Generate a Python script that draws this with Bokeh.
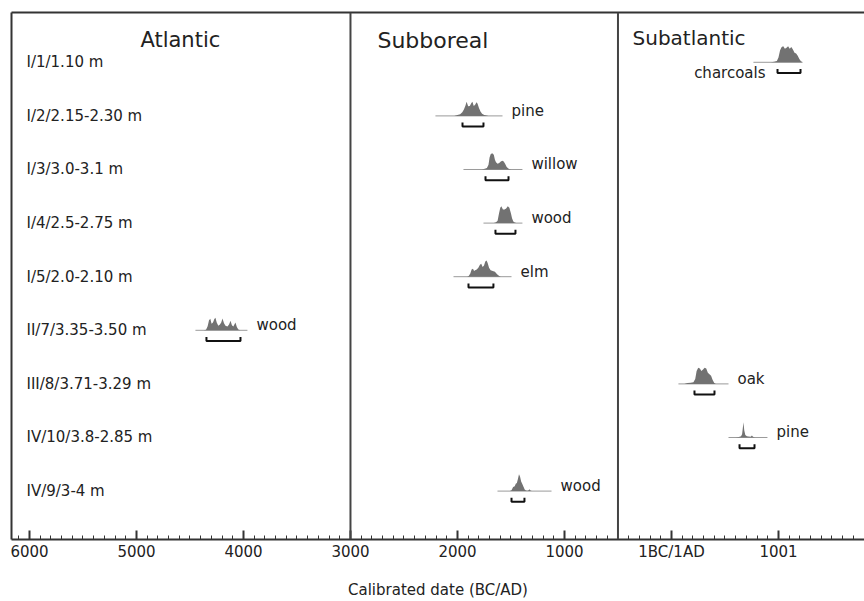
from bokeh.plotting import figure
from bokeh.models import Range1d, FixedTicker, LinearAxis, Span
from bokeh.core.properties import value
from bokeh.embed import file_html
from bokeh.resources import INLINE

FONT = "DejaVu Sans"

# ---------------- data ----------------
row_labels = ["I/1/1.10 m", "I/2/2.15-2.30 m", "I/3/3.0-3.1 m", "I/4/2.5-2.75 m",
              "I/5/2.0-2.10 m", "II/7/3.35-3.50 m", "III/8/3.71-3.29 m",
              "IV/10/3.8-2.85 m", "IV/9/3-4 m"]
materials = ["charcoals", "pine", "willow", "wood", "elm", "wood", "oak", "pine", "wood"]
label_at_left = [True, False, False, False, False, False, False, False, False]

# calendar years: negative = BC, positive = AD
periods = ["Atlantic", "Subboreal", "Subatlantic"]
period_label_x = [-4963, -2748, -364]
period_label_y = [-0.41, -0.41, -0.46]
period_font_px = [21, 22, 20]
period_bounds = [-3000, -500]

# extent of the plotted (thin) probability line per sample
base_start = [766, -2206, -1944, -1757, -2037, -4449, 65, 533, -1626]
base_end = [1224, -1579, -1393, -1393, -1495, -3963, 533, 897, -1121]
# 2-sigma calibrated range per sample (bracket)
range_start = [991, -1953, -1738, -1645, -1897, -4346, 215, 636, -1495]
range_end = [1206, -1757, -1523, -1458, -1664, -4028, 402, 776, -1374]

charcoals_years = [930, 960, 985, 1000, 1015, 1030, 1045, 1060, 1075, 1090, 1105, 1120,
                   1135, 1150, 1165, 1180, 1195, 1210, 1225]
charcoals_prob = [0.0, 0.03, 0.08, 0.3, 0.75, 0.95, 1.0, 0.85, 0.9, 1.0, 0.85, 0.95,
                  0.8, 0.6, 0.55, 0.4, 0.2, 0.07, 0.0]

pine1_years = [-2030, -2000, -1975, -1955, -1940, -1925, -1915, -1900, -1885, -1870, -1860,
               -1848, -1835, -1822, -1812, -1800, -1785, -1770, -1750, -1730, -1710]
pine1_prob = [0.0, 0.05, 0.1, 0.22, 0.4, 0.65, 0.88, 0.6, 0.62, 0.8, 0.88,
              0.62, 0.7, 0.85, 0.75, 0.5, 0.28, 0.14, 0.06, 0.03, 0.0]

willow_years = [-1770, -1745, -1725, -1710, -1700, -1690, -1680, -1670, -1660, -1650, -1640,
                -1625, -1610, -1595, -1580, -1568, -1555, -1540, -1525, -1510, -1495]
willow_prob = [0.0, 0.05, 0.1, 0.3, 0.75, 0.95, 1.0, 1.0, 0.9, 0.6, 0.45,
               0.35, 0.4, 0.5, 0.55, 0.5, 0.35, 0.15, 0.06, 0.02, 0.0]

wood4_years = [-1660, -1640, -1625, -1612, -1600, -1590, -1575, -1560, -1545, -1530, -1515,
               -1500, -1490, -1478, -1465, -1450]
wood4_prob = [0.0, 0.05, 0.15, 0.6, 0.95, 1.05, 0.85, 0.85, 0.9, 1.05, 0.95,
              0.6, 0.3, 0.1, 0.03, 0.0]

elm_years = [-1910, -1895, -1880, -1868, -1855, -1845, -1835, -1820, -1805, -1790, -1778,
             -1765, -1752, -1740, -1728, -1718, -1705, -1690, -1670, -1650, -1630, -1610, -1595]
elm_prob = [0.0, 0.05, 0.2, 0.45, 0.5, 0.35, 0.4, 0.45, 0.55, 0.75, 0.8,
            0.6, 0.7, 0.95, 1.0, 0.85, 0.55, 0.4, 0.35, 0.3, 0.15, 0.05, 0.0]

wood7_years = [-4370, -4350, -4335, -4322, -4310, -4298, -4285, -4272, -4262, -4250, -4235,
               -4220, -4208, -4196, -4182, -4168, -4150, -4135, -4121, -4108, -4095, -4085,
               -4075, -4062, -4048, -4030]
wood7_prob = [0.0, 0.04, 0.25, 0.62, 0.72, 0.4, 0.48, 0.7, 0.78, 0.48, 0.28,
              0.36, 0.48, 0.74, 0.44, 0.28, 0.24, 0.36, 0.6, 0.32, 0.24, 0.36,
              0.48, 0.2, 0.05, 0.0]

oak_years = [120, 150, 180, 205, 222, 235, 250, 265, 280, 295, 310, 325, 340, 355, 370,
             385, 400, 415]
oak_prob = [0.0, 0.05, 0.07, 0.1, 0.3, 0.8, 1.0, 0.95, 0.8, 0.9, 1.0, 0.95, 0.7, 0.6, 0.5,
            0.25, 0.06, 0.0]

pine10_years = [600, 630, 650, 660, 667, 673, 680, 690, 705, 720, 740, 752, 762, 780]
pine10_prob = [0.0, 0.03, 0.08, 0.2, 0.6, 0.95, 0.45, 0.15, 0.08, 0.06, 0.05, 0.12, 0.04, 0.0]

wood9_years = [-1510, -1495, -1480, -1465, -1455, -1445, -1435, -1425, -1415, -1405, -1395,
               -1385, -1372, -1360, -1345, -1335, -1327, -1318, -1305]
wood9_prob = [0.0, 0.05, 0.25, 0.3, 0.45, 0.5, 0.75, 1.05, 0.9, 0.6, 0.45,
              0.3, 0.1, 0.03, 0.02, 0.05, 0.12, 0.03, 0.0]

curve_years = [charcoals_years, pine1_years, willow_years, wood4_years, elm_years,
               wood7_years, oak_years, pine10_years, wood9_years]
curve_prob = [charcoals_prob, pine1_prob, willow_prob, wood4_prob, elm_prob,
              wood7_prob, oak_prob, pine10_prob, wood9_prob]

tick_years = [-6000, -5000, -4000, -3000, -2000, -1000, 0, 1000]
tick_labels = ["6000", "5000", "4000", "3000", "2000", "1000", "1BC/1AD", "1001"]
minor_years = list(range(-6100, 1900, 100))

# ---------------- figure ----------------
X0, X1 = -6168, 1804
Y_BOTTOM, Y_TOP = 8.903, -0.929
PEAK_H = 0.3        # row units for probability 1.0
BRACKET_DY = 0.2    # bracket below the curve baseline
TXT = "#222222"
LINE = "#333333"

rows = list(range(len(row_labels)))

p = figure(width=864, height=601, x_range=Range1d(X0, X1), y_range=Range1d(Y_BOTTOM, Y_TOP),
           output_backend="svg", toolbar_location=None, y_axis_location=None,
           x_axis_location=None,
           min_border_left=11, min_border_right=0, min_border_top=12, min_border_bottom=60)
p.grid.visible = False
p.outline_line_color = None
p.background_fill_color = "white"

# frame lines (top and left) as bare axes
for side in ("above", "left"):
    ax = LinearAxis(ticker=FixedTicker(ticks=[]), axis_line_width=2, axis_line_color=LINE,
                    major_tick_line_color=None, minor_tick_line_color=None,
                    major_label_text_font_size="0px", major_label_standoff=0,
                    axis_label_standoff=0)
    p.add_layout(ax, side)

xa = LinearAxis(
    ticker=FixedTicker(ticks=tick_years, minor_ticks=minor_years),
    major_label_overrides={t: l for t, l in zip(tick_years, tick_labels)},
    axis_line_width=2, axis_line_color=LINE,
    major_tick_in=9, major_tick_out=0, minor_tick_in=4, minor_tick_out=0,
    major_tick_line_width=2, major_tick_line_color=LINE,
    minor_tick_line_color=LINE, minor_tick_line_width=1,
    major_label_text_font=FONT, major_label_text_font_size="15px",
    major_label_text_color=TXT, major_label_standoff=3,
    axis_label="Calibrated date (BC/AD)", axis_label_text_font=FONT,
    axis_label_text_font_size="15px", axis_label_text_font_style="normal",
    axis_label_text_color=TXT, axis_label_standoff=17)
p.add_layout(xa, "below")

# period boundaries
for b in period_bounds:
    p.add_layout(Span(location=b, dimension="height", line_color="#444444", line_width=2))

# period titles
p.text(x=period_label_x, y=period_label_y, text=periods, text_font=value(FONT),
       text_font_size=[f"{s}px" for s in period_font_px], text_baseline="middle",
       text_align="left", text_color=TXT)

# row labels
p.text(x=[X0] * len(rows), y=rows, text=row_labels, x_offset=15, text_font=value(FONT),
       text_font_size=value("15px"), text_baseline="middle", text_align="left",
       text_color=TXT)

# thin probability lines
p.segment(x0=base_start, y0=rows, x1=base_end, y1=rows, line_color="#9a9a9a", line_width=1)

# probability distributions
for r, yrs, pr in zip(rows, curve_years, curve_prob):
    p.varea(x=yrs, y1=[r] * len(yrs), y2=[r - v * PEAK_H for v in pr],
            fill_color="#727272")

# 2-sigma brackets
bx, by = [], []
for r, s, e in zip(rows, range_start, range_end):
    yb = r + BRACKET_DY
    bx.append([s, s, e, e])
    by.append([yb - 0.075, yb, yb, yb - 0.075])
p.multi_line(xs=bx, ys=by, line_color="#111111", line_width=2)

# material labels
for r, m, left, be, rs in zip(rows, materials, label_at_left, base_end, range_start):
    if left:
        p.text(x=[rs], y=[r + BRACKET_DY], text=[m], x_offset=-12, text_font=value(FONT),
               text_font_size=value("15px"), text_baseline="middle", text_align="right",
               text_color=TXT)
    else:
        p.text(x=[be], y=[r], text=[m], x_offset=9, y_offset=-5, text_font=value(FONT),
               text_font_size=value("15px"), text_baseline="middle", text_align="left",
               text_color=TXT)

open("out.html", "w").write(file_html(p, INLINE))
